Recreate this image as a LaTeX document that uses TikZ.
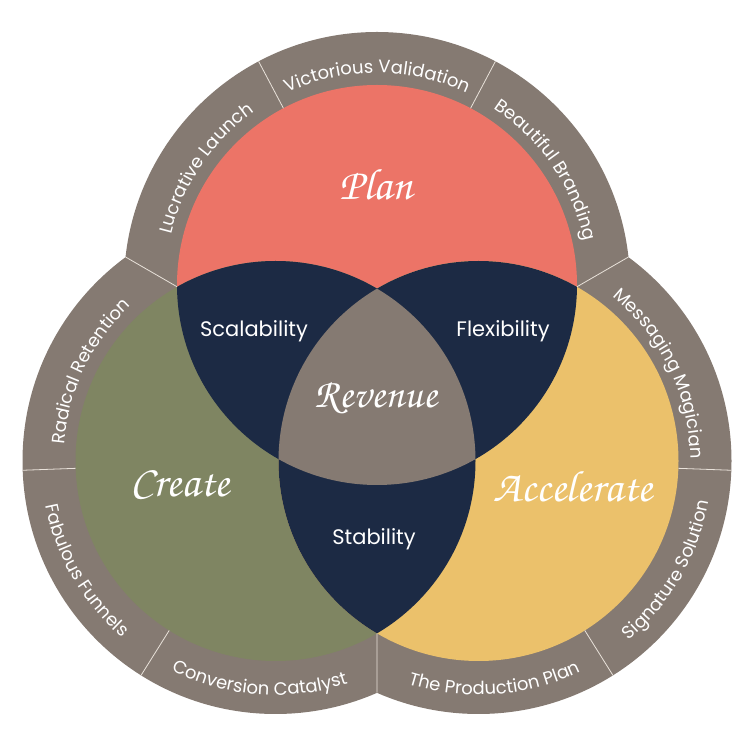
\documentclass[tikz,border=0pt]{standalone}
\usepackage{fontspec}
\setmainfont{Poppins}
\newfontfamily\scr{TeX Gyre Chorus}
\usetikzlibrary{decorations.text,calc}
\definecolor{ringgray}{RGB}{133,122,114}
\definecolor{plancol}{RGB}{236,116,103}
\definecolor{createcol}{RGB}{127,133,98}
\definecolor{accelcol}{RGB}{235,193,107}
\definecolor{navycol}{RGB}{28,42,68}
\definecolor{sepcol}{RGB}{233,226,218}
\newcommand\ringfont{\fontsize{18}{18}\selectfont\color{white}}
\newcommand\cwtext[4]{%
  \path[decorate,decoration={text along path,text align=center,text={|\ringfont|#4}}]
    ($(#1)+(#2:212pt)$) arc[start angle=#2,end angle=#3,radius=212pt];}
\newcommand\ccwtext[4]{%
  \path[decorate,decoration={text along path,text align=center,text={|\ringfont|#4}}]
    ($(#1)+(#2:234pt)$) arc[start angle=#2,end angle=#3,radius=234pt];}
\tikzset{
  sepline/.style={draw=sepcol,line width=0.8pt},
  innerlabel/.style={text=white,font=\fontsize{21}{21}\selectfont},
  scriptlabel/.style={text=white,font=\scr\fontsize{44}{44}\selectfont}
}
\begin{document}
\begin{tikzpicture}[x=1pt,y=1pt]
\useasboundingbox (0,0) rectangle (750,750);
\def\rs{200pt}\def\Rb{253pt}
\coordinate (P) at (377,465);
\coordinate (C) at (275.5,289);
\coordinate (A) at (478.5,289);
% outer rings
\fill[ringgray] (P) circle[radius=\Rb] (C) circle[radius=\Rb] (A) circle[radius=\Rb];
% circles
\fill[plancol] (P) circle[radius=\rs];
\fill[createcol] (C) circle[radius=\rs];
\fill[accelcol] (A) circle[radius=\rs];
\begin{scope}
  \clip (P) circle[radius=\rs];
  \fill[navycol] (C) circle[radius=\rs] (A) circle[radius=\rs];
\end{scope}
\begin{scope}
  \clip (C) circle[radius=\rs];
  \fill[navycol] (A) circle[radius=\rs];
\end{scope}
\begin{scope}
  \clip (P) circle[radius=\rs];
  \clip (C) circle[radius=\rs];
  \fill[ringgray] (A) circle[radius=\rs];
\end{scope}
% separators between ring segments
\foreach \a in {117.9,62.1} \draw[sepline] ($(P)+(\a:\rs)$) -- ($(P)+(\a:\Rb)$);
\foreach \a in {182.1,237.9} \draw[sepline] ($(C)+(\a:\rs)$) -- ($(C)+(\a:\Rb)$);
\foreach \a in {302.1,357.9} \draw[sepline] ($(A)+(\a:\rs)$) -- ($(A)+(\a:\Rb)$);
\draw[sepline] ($(P)+(180.5:\rs)$) -- ($(P)+(173.65:\Rb)$);
\draw[sepline] ($(P)+(-0.5:\rs)$) -- ($(P)+(6.35:\Rb)$);
\draw[sepline] ($(C)+(-59.5:\rs)$) -- ($(C)+(-66.35:\Rb)$);
% ring texts
\cwtext{P}{173.65}{117.9}{Lucrative Launch}
\cwtext{P}{117.9}{62.1}{Victorious Validation}
\cwtext{P}{62.1}{6.35}{Beautiful Branding}
\cwtext{C}{182.1}{126.35}{Radical Retention}
\ccwtext{C}{182.1}{237.9}{Fabulous Funnels}
\ccwtext{C}{237.9}{293.65}{Conversion Catalyst}
\cwtext{A}{413.65}{357.9}{Messaging Magician}
\ccwtext{A}{302.1}{357.9}{Signature Solution}
\ccwtext{A}{246.35}{302.1}{The Production Plan}
% inner labels
\node[innerlabel] (scal) at (254,419) {Scalability};
\node[innerlabel] (flex) at (503,419) {Flexibility};
\node[innerlabel] (stab) at (374,211) {Stability};
\node[scriptlabel] (plan) at (376,565) {Plan};
\node[scriptlabel] (create) at (180,265) {Create};
\node[scriptlabel] (accel) at (573,263) {Accelerate};
\node[scriptlabel,font=\scr\fontsize{41}{41}\selectfont] (rev) at (376,352) {Revenue};
\end{tikzpicture}
\end{document}
